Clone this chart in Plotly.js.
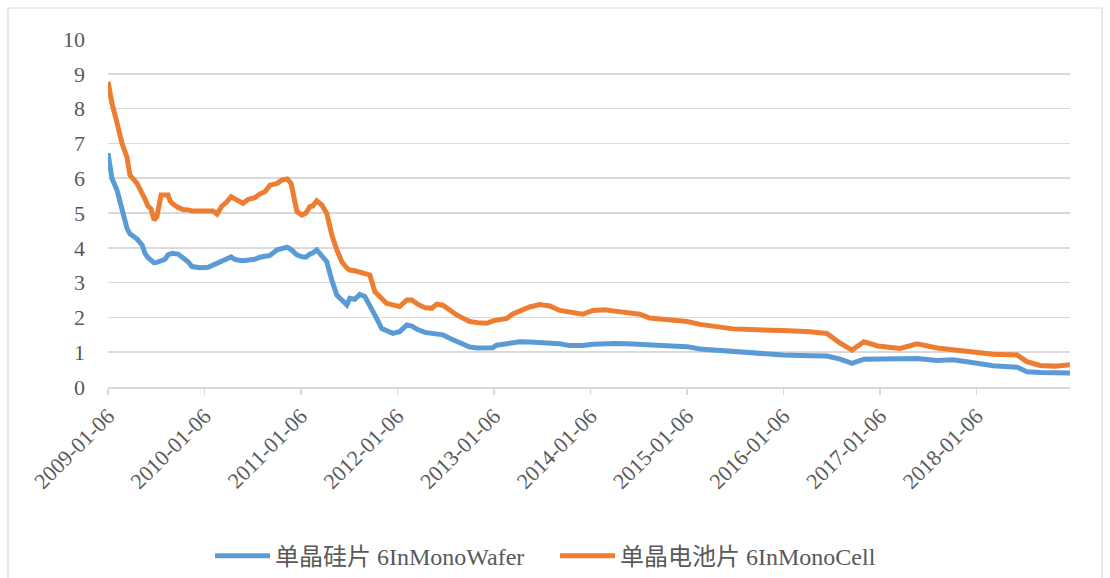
<!DOCTYPE html>
<html>
<head>
<meta charset="utf-8">
<script src="https://cdn.plot.ly/plotly-3.0.1.min.js"></script>
<style>
html,body{margin:0;padding:0;background:#fff;}
#chart{width:1110px;height:578px;}
</style>
</head>
<body>
<div id="chart"></div>
<script>
const dates = [
"2009-01-06","2009-01-21","2009-02-09","2009-02-28","2009-03-19","2009-03-30","2009-04-26","2009-05-15","2009-05-26","2009-06-06",
"2009-06-18","2009-06-29","2009-07-10","2009-07-26","2009-08-10","2009-08-21","2009-08-29","2009-09-05","2009-09-28","2009-10-17",
"2009-11-05","2009-11-20","2009-12-20","2010-01-20","2010-02-07","2010-02-23","2010-03-13","2010-04-01","2010-04-17","2010-04-28",
"2010-05-09","2010-06-01","2010-06-20","2010-07-16","2010-08-04","2010-08-23","2010-09-11","2010-10-08","2010-10-27","2010-11-15",
"2010-11-30","2010-12-15","2010-12-22","2011-01-10","2011-01-25","2011-02-09","2011-02-20","2011-03-07","2011-03-26","2011-04-14",
"2011-05-03","2011-05-22","2011-06-10","2011-06-29","2011-07-10","2011-07-29","2011-08-17","2011-09-05","2011-09-24","2011-10-13",
"2011-10-20","2011-11-08","2011-11-27","2011-12-20","2012-01-15","2012-02-11","2012-03-01","2012-03-23","2012-04-19","2012-05-15",
"2012-06-03","2012-06-26","2012-07-22","2012-08-18","2012-09-10","2012-10-06","2012-11-05","2012-12-10","2013-01-01","2013-01-16",
"2013-02-23","2013-03-18","2013-04-13","2013-05-21","2013-06-28","2013-08-05","2013-09-12","2013-10-20","2013-12-08","2014-01-15",
"2014-03-01","2014-04-08","2014-05-27","2014-07-12","2014-08-18","2014-10-14","2015-01-06","2015-02-25","2015-04-30","2015-06-30",
"2015-09-02","2015-10-29","2016-01-05","2016-04-16","2016-06-19","2016-08-08","2016-09-22","2016-11-06","2016-12-29","2017-03-23",
"2017-05-26","2017-08-10","2017-10-09","2018-01-08","2018-03-10","2018-06-09","2018-07-16","2018-09-04","2018-10-30","2018-12-26"
];
const waferValues = [
6.72,6.00,5.66,5.09,4.56,4.40,4.25,4.08,3.84,3.72,
3.65,3.57,3.58,3.63,3.67,3.80,3.84,3.84,3.82,3.73,
3.60,3.46,3.43,3.44,3.50,3.56,3.63,3.70,3.74,3.68,
3.65,3.63,3.65,3.67,3.73,3.75,3.78,3.94,3.99,4.02,
3.95,3.84,3.80,3.74,3.73,3.82,3.85,3.94,3.79,3.60,
3.07,2.64,2.50,2.36,2.55,2.52,2.66,2.60,2.33,2.10,
1.97,1.68,1.60,1.54,1.59,1.78,1.75,1.65,1.57,1.54,
1.53,1.50,1.40,1.32,1.24,1.15,1.12,1.11,1.13,1.20,
1.25,1.30,1.30,1.29,1.28,1.28,1.24,1.19,1.19,1.23,
1.25,1.25,1.24,1.23,1.22,1.20,1.16,1.09,1.05,1.01,
0.97,0.94,0.92,0.90,0.89,0.80,0.68,0.80,0.80,0.82,
0.82,0.76,0.78,0.68,0.61,0.57,0.44,0.42,0.41,0.40
];
const cellValues = [
8.77,8.15,7.60,7.00,6.60,6.09,5.85,5.60,5.40,5.20,
5.12,4.80,4.89,5.52,5.52,5.52,5.35,5.28,5.16,5.10,
5.09,5.06,5.06,5.06,5.06,4.97,5.20,5.32,5.47,5.42,
5.37,5.28,5.39,5.44,5.55,5.61,5.80,5.85,5.95,5.98,
5.85,5.37,5.04,4.94,5.00,5.18,5.20,5.35,5.23,4.99,
4.37,3.94,3.60,3.42,3.36,3.34,3.31,3.27,3.22,2.74,
2.68,2.56,2.40,2.36,2.31,2.50,2.50,2.38,2.28,2.26,
2.38,2.35,2.20,2.07,1.98,1.88,1.85,1.83,1.90,1.93,
1.97,2.10,2.18,2.30,2.37,2.33,2.20,2.14,2.09,2.20,
2.22,2.18,2.13,2.09,1.98,1.94,1.88,1.80,1.74,1.67,
1.65,1.62,1.62,1.59,1.54,1.26,1.06,1.30,1.18,1.11,
1.24,1.12,1.07,0.97,0.94,0.92,0.73,0.62,0.60,0.64
];
const tickDates = ["2009-01-06","2010-01-06","2011-01-06","2012-01-06","2013-01-06","2014-01-06","2015-01-06","2016-01-06","2017-01-06","2018-01-06"];
const seriesNames = ["单晶硅片 6InMonoWafer","单晶电池片 6InMonoCell"];

const FONT = '"Liberation Serif", "Times New Roman", "Noto Sans CJK SC", serif';
const traces = [
  {x: dates, y: waferValues, name: seriesNames[0], type: 'scatter', mode: 'lines',
   line: {color: '#5b9bd5', width: 5}},
  {x: dates, y: cellValues, name: seriesNames[1], type: 'scatter', mode: 'lines',
   line: {color: '#ed7d31', width: 5}}
];
const layout = {
  width: 1110, height: 578,
  margin: {l: 108, r: 40, t: 39, b: 191},
  paper_bgcolor: '#ffffff', plot_bgcolor: '#ffffff',
  font: {family: FONT, size: 22, color: '#595959'},
  showlegend: true,
  legend: {orientation: 'h', xref: 'container', yref: 'container', x: 0.5, xanchor: 'center',
           y: 0.038, yanchor: 'middle', font: {family: FONT, size: 24, color: '#595959'},
           itemwidth: 55, entrywidth: 275, bgcolor: 'rgba(0,0,0,0)'},
  xaxis: {type: 'date', range: ['2009-01-06', '2018-12-26'],
          tickmode: 'array', tickvals: tickDates, ticktext: tickDates,
          tickangle: -45, showgrid: false, showline: true, linecolor: '#d9d9d9', linewidth: 1.5,
          ticks: 'outside', ticklen: 6, tickcolor: '#d9d9d9', tickwidth: 1.5,
          tickfont: {family: FONT, size: 22, color: '#595959'}, fixedrange: true},
  yaxis: {range: [0, 10], dtick: 1, tick0: 0, showgrid: true, gridcolor: '#d9d9d9', gridwidth: 1.5,
          zeroline: false, showline: false, ticks: '', ticklabelstandoff: 22,
          tickfont: {family: FONT, size: 22, color: '#595959'}, fixedrange: true},
  shapes: [{type: 'rect', xref: 'paper', yref: 'paper',
            x0: (8 - 108) / 962, x1: (1102 - 108) / 962,
            y0: (387 - 590) / 348, y1: (387 - 8) / 348,
            line: {color: '#d9d9d9', width: 1.2}, fillcolor: 'rgba(0,0,0,0)', layer: 'below'}]
};
Plotly.newPlot('chart', traces, layout, {displayModeBar: false, staticPlot: true});
</script>
</body>
</html>
